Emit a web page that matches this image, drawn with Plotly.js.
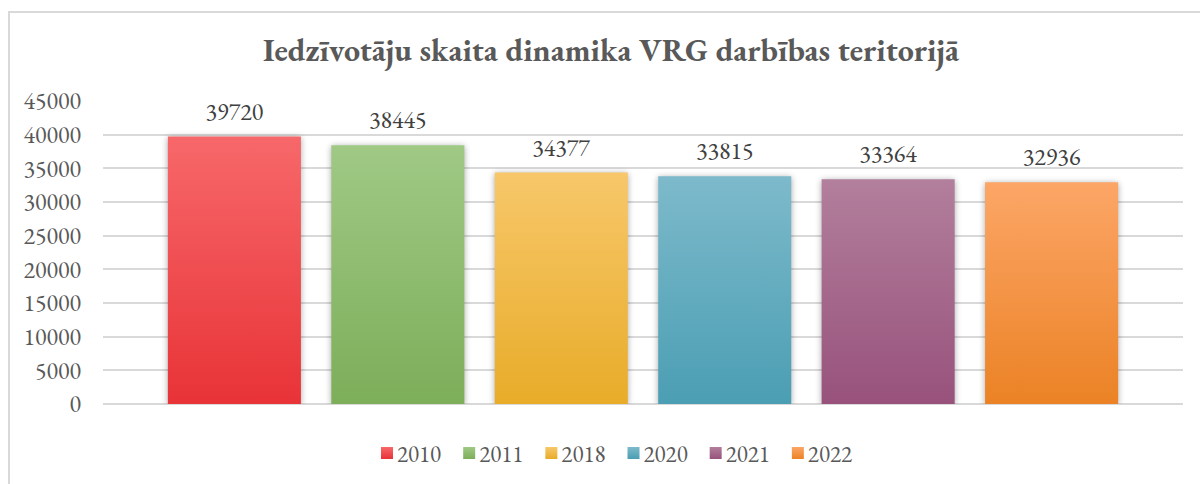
<!DOCTYPE html>
<html>
<head>
<meta charset="utf-8">
<script src="https://cdn.plot.ly/plotly-3.0.1.min.js"></script>
<style>
  html, body { margin: 0; padding: 0; background: #fff; overflow: hidden; }
  #wrap { position: relative; width: 1200px; height: 484px; overflow: hidden; }
  #frame { position: absolute; left: 8px; top: 11px; width: 1300px; height: 600px;
           border: 2px solid #D9D9D9; box-sizing: border-box; pointer-events: none; z-index: 2; }
  #chart { position: absolute; left: 0; top: 0; width: 1200px; height: 484px; }
  .bars .point path { filter: drop-shadow(0px 1px 3px rgba(0,0,0,0.35)); }
</style>
</head>
<body>
<div id="wrap">
  <div id="chart"></div>
  <div id="frame"></div>
</div>
<script>
// ---- data ----
const years = ["2010", "2011", "2018", "2020", "2021", "2022"];
const population = [39720, 38445, 34377, 33815, 33364, 32936];
const category = [""];
const yTicks = [0, 5000, 10000, 15000, 20000, 25000, 30000, 35000, 40000, 45000];

// ---- styles ----
const topColors = ["#F7686A", "#9FC985", "#F7C76A", "#7DBACB", "#B27F9C", "#FCA667"];
const midColors = ["#F45C5E", "#98C47C", "#F5C15E", "#73B4C7", "#AD7595", "#FB9E5C"];
const bottomColors = ["#E83337", "#7DAE59", "#E8AC29", "#4B9EB3", "#98527C", "#EB8225"];
const FONT = "Garamond, 'EB Garamond', 'Liberation Serif', 'DejaVu Serif', serif";

const traces = years.map((yr, i) => ({
  type: "bar",
  name: yr,
  x: category,
  y: [population[i]],
  marker: { color: midColors[i], line: { width: 0 } },
  text: [String(population[i])],
  texttemplate: "%{text}",
  textposition: "outside",
  textfont: { family: FONT, size: 24, color: "#404040" },
  cliponaxis: false,
  hoverinfo: "name+y"
}));

const layout = {
  width: 1200,
  height: 484,
  paper_bgcolor: "rgba(0,0,0,0)",
  plot_bgcolor: "rgba(0,0,0,0)",
  margin: { l: 103, r: 17, t: 101, b: 80 },
  font: { family: FONT, color: "#595959" },
  title: {
    text: "<b>Iedzīvotāju skaita dinamika VRG darbības teritorijā</b>",
    font: { family: FONT, size: 32, color: "#595959" },
    x: 611 / 1200, xanchor: "center", xref: "container",
    y: 1 - 50 / 484, yanchor: "middle", yref: "container"
  },
  barmode: "group",
  bargap: 0.092,
  bargroupgap: 0.186,
  xaxis: {
    showticklabels: false, showgrid: false, zeroline: false, showline: false, ticks: ""
  },
  yaxis: {
    range: [0, 45000],
    tickvals: yTicks,
    ticktext: yTicks.map(String),
    tickfont: { family: FONT, size: 24, color: "#595959" },
    showgrid: true, gridcolor: "#D9D9D9", gridwidth: 2,
    zeroline: true, zerolinecolor: "#D9D9D9", zerolinewidth: 2,
    showline: false, ticks: "", ticklabelstandoff: 21
  },
  showlegend: true,
  legend: {
    orientation: "h",
    xref: "container", x: 615 / 1200, xanchor: "center",
    yref: "container", y: 1 - 453 / 484, yanchor: "middle",
    font: { family: FONT, size: 23, color: "#595959" },
    itemwidth: 30,
    itemgap: 0,
    traceorder: "normal"
  }
};

Plotly.newPlot("chart", traces, layout, { displayModeBar: false, staticPlot: true }).then(gd => {
  const svg = gd.querySelector("svg.main-svg");
  const NS = "http://www.w3.org/2000/svg";
  let defs = svg.querySelector("defs");
  if (!defs) { defs = document.createElementNS(NS, "defs"); svg.insertBefore(defs, svg.firstChild); }
  years.forEach((yr, i) => {
    const g = document.createElementNS(NS, "linearGradient");
    g.setAttribute("id", "grad" + i);
    g.setAttribute("x1", "0"); g.setAttribute("y1", "0");
    g.setAttribute("x2", "0"); g.setAttribute("y2", "1");
    const s1 = document.createElementNS(NS, "stop");
    s1.setAttribute("offset", "0"); s1.setAttribute("stop-color", topColors[i]);
    const s2 = document.createElementNS(NS, "stop");
    s2.setAttribute("offset", "1"); s2.setAttribute("stop-color", bottomColors[i]);
    g.appendChild(s1); g.appendChild(s2);
    defs.appendChild(g);
  });
  gd.querySelectorAll(".barlayer .trace.bars").forEach((t, i) => {
    t.querySelectorAll(".point path").forEach(p => { p.style.fill = "url(#grad" + i + ")"; });
    t.querySelectorAll("text.bartext").forEach(tx => {
      const tr = tx.getAttribute("transform") || "";
      tx.setAttribute("transform", "translate(0,-7) " + tr);
    });
  });
  gd.querySelectorAll(".legend .traces").forEach((t, i) => {
    t.querySelectorAll(".legendpoints path").forEach(p => { p.style.fill = "url(#grad" + i + ")"; });
    const lp = t.querySelector(".legendpoints");
    if (lp) lp.setAttribute("transform", "translate(10,0)");
    // tighten legend item spacing to match the reference
    const tr = t.getAttribute("transform") || "";
    const m = tr.match(/translate\(\s*([-\d.]+)[ ,]+([-\d.]+)\s*\)/);
    if (m) {
      const nx = parseFloat(m[1]) - i * 7 + 10;
      t.setAttribute("transform", "translate(" + nx + "," + m[2] + ")");
    }
  });
});
</script>
</body>
</html>
